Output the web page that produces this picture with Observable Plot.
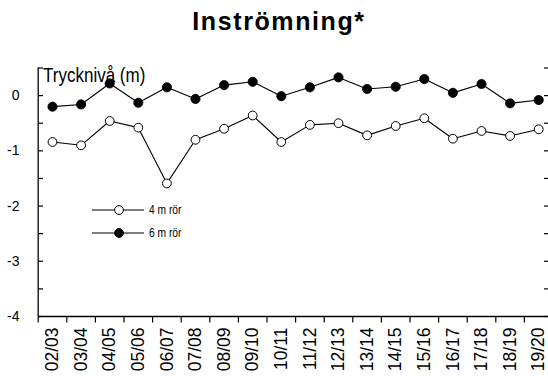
<!DOCTYPE html>
<html>
<head>
<meta charset="utf-8">
<script src="https://cdn.jsdelivr.net/npm/d3@7"></script>
<script src="https://cdn.jsdelivr.net/npm/@observablehq/plot@0.6"></script>
<style>
  body { margin: 0; background: #fff; }
  #wrap { position: relative; width: 548px; height: 376px; overflow: hidden; background: #fff; }
  #title { position: absolute; left: 0; top: 9px; width: 558px; text-align: center; font: bold 25px "Liberation Sans", Arial, sans-serif; line-height: 25px; letter-spacing: 1.6px; color: #000; }
  #ylab { position: absolute; left: 43px; top: 64px; font: 21px "Liberation Sans", Arial, sans-serif; line-height: 21px; color: #000; transform: scaleX(0.81); transform-origin: 0 0; white-space: nowrap; }
  #legend { position: absolute; left: 92px; top: 198px; font: 12.5px "Liberation Sans", Arial, sans-serif; color: #000; }
  .item { display: flex; align-items: center; height: 23px; white-space: nowrap; }
  .item svg { margin-right: 5px; }
  .item span { display: inline-block; transform: scaleX(0.82); transform-origin: 0 50%; }
  #chart { position: absolute; left: 0; top: 0; }
</style>
</head>
<body>
<div id="wrap">
  <div id="chart"></div>
  <div id="title">Inströmning*</div>
  <div id="ylab">Trycknivå (m)</div>
  <div id="legend"></div>
</div>
<script>
const labels = ["02/03","03/04","04/05","05/06","06/07","07/08","08/09","09/10","10/11","11/12","12/13","13/14","14/15","15/16","16/17","17/18","18/19","19/20"];
const ror4 = [-0.84,-0.90,-0.46,-0.58,-1.59,-0.80,-0.60,-0.36,-0.84,-0.53,-0.50,-0.72,-0.55,-0.41,-0.78,-0.64,-0.73,-0.61];
const ror6 = [-0.20,-0.16,0.22,-0.13,0.15,-0.06,0.19,0.25,-0.01,0.15,0.33,0.12,0.16,0.30,0.05,0.21,-0.14,-0.08];
const seriesNames = ["4 m rör", "6 m rör"];
const yTickLabels = [0, -1, -2, -3, -4];
const yMinorTicks = [0.5, 0, -0.5, -1, -1.5, -2, -2.5, -3, -3.5, -4];

const idx = labels.map((_, i) => i);
const d4 = idx.map(i => ({i, v: ror4[i]}));
const d6 = idx.map(i => ({i, v: ror6[i]}));
const boundaries = d3.range(labels.length + 1).map(i => i - 0.5);
const blank = () => "";

const chart = Plot.plot({
  width: 548,
  height: 376,
  marginTop: 67.5,
  marginBottom: 60,
  marginLeft: 38,
  marginRight: 0,
  style: {fontFamily: "Liberation Sans, Arial, sans-serif", fontSize: "14px", color: "#000", background: "transparent", overflow: "visible"},
  x: {domain: [-0.5, labels.length - 0.5], range: [37.7, 552.5]},
  y: {domain: [-4, 0.5]},
  marks: [
    Plot.ruleX([-0.5], {stroke: "#000", strokeWidth: 1.3}),
    Plot.ruleY([-4], {stroke: "#000", strokeWidth: 1.3}),
    Plot.axisY({ticks: yTickLabels, tickSize: 0, tickPadding: 19, tickFormat: d => String(d), label: null, fontSize: 14}),
    Plot.axisY({ticks: yMinorTicks, tickFormat: blank, tickSize: 5, dx: 5, label: null, strokeWidth: 1.2}),
    Plot.axisY({ticks: yMinorTicks, tickFormat: blank, tickSize: 5, dx: -5, anchor: "right", label: null, strokeWidth: 1.2}),
    Plot.axisX({ticks: boundaries, tickFormat: blank, tickSize: 6.5, label: null, strokeWidth: 1.2}),
    Plot.axisX({ticks: idx, tickFormat: i => labels[i], tickSize: 0, tickPadding: 11, tickRotate: -90, label: null, fontSize: 17.5}),
    Plot.line(d6, {x: "i", y: "v", stroke: "#000", strokeWidth: 1.1}),
    Plot.line(d4, {x: "i", y: "v", stroke: "#000", strokeWidth: 1.1}),
    Plot.dot(d6, {x: "i", y: "v", r: 4.6, fill: "#000", stroke: "#000", strokeWidth: 0.8}),
    Plot.dot(d4, {x: "i", y: "v", r: 4.4, fill: "#fff", stroke: "#000", strokeWidth: 1})
  ]
});
document.getElementById("chart").appendChild(chart);

const legend = document.getElementById("legend");
seriesNames.forEach((name, k) => {
  const item = document.createElement("div");
  item.className = "item";
  const fill = k === 0 ? "#fff" : "#000";
  item.innerHTML = `<svg width="52" height="12"><line x1="0" y1="6" x2="52" y2="6" stroke="#000" stroke-width="1.1"/><circle cx="27" cy="6" r="4.4" fill="${fill}" stroke="#000" stroke-width="1"/></svg><span>${name}</span>`;
  legend.appendChild(item);
});
</script>
</body>
</html>
